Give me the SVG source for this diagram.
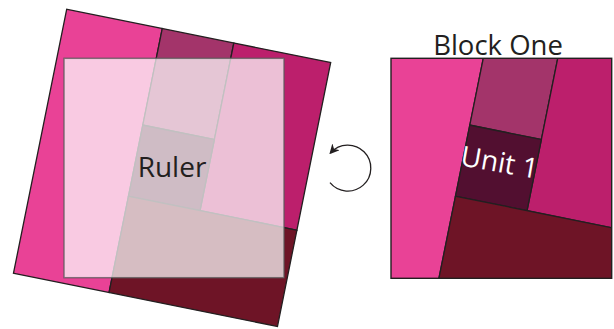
<svg xmlns="http://www.w3.org/2000/svg" xmlns:xlink="http://www.w3.org/1999/xlink" width="614" height="329" viewBox="0 0 614 329">
<style>
.pc{stroke:#231F20;stroke-width:1.3;stroke-linejoin:miter}
.lbl{font-family:"Open Sans","Noto Sans",sans-serif;fill:#231F20}
</style>
<defs>
<g id="cabin">
<rect class="pc" x="0" y="0" width="97.5" height="269.3" fill="#E94296"/>
<rect class="pc" x="97.5" y="0" width="73" height="98.5" fill="#A3346A"/>
<rect class="pc" x="170.5" y="0" width="98.8" height="171" fill="#BC1F6C"/>
<rect class="pc" x="97.5" y="98.5" width="73" height="72.5" fill="#520F30"/>
<rect class="pc" x="97.5" y="171" width="171.8" height="98.3" fill="#6E1426"/>
</g>
<clipPath id="blockClip"><rect x="391" y="58" width="220" height="220"/></clipPath>
<marker id="ah" viewBox="0 0 10 10" refX="8" refY="5" markerWidth="10" markerHeight="10" markerUnits="userSpaceOnUse" orient="auto">
<path d="M0,0 L10,5 L0,10 L3,5 z" fill="#231F20"/>
</marker>
</defs>
<g id="unit-rotated">
<use xlink:href="#cabin" transform="translate(66.7,9.3) rotate(11.4)"/>
</g>
<g id="ruler">
<rect x="64" y="58.3" width="220" height="219.4" fill="#FFFFFF" fill-opacity="0.72" stroke="#5a5a5a" stroke-opacity="0.75" stroke-width="1.5"/>
<text class="lbl" x="172" y="177" font-size="28" text-anchor="middle">Ruler</text>
</g>
<g id="connectors">
<path d="M330,182.7 A23,23 0 1 0 330.7,152.7" fill="none" stroke="#231F20" stroke-width="1.3" marker-end="url(#ah)"/>
</g>
<g id="block-one">
<g clip-path="url(#blockClip)">
<use xlink:href="#cabin" transform="translate(393.7,9.3) rotate(11.4)"/>
</g>
<rect x="391" y="58.3" width="220.7" height="220" fill="none" stroke="#231F20" stroke-width="1.4"/>
<text class="lbl" x="498" y="55" font-size="27.5" text-anchor="middle">Block One</text>
<text x="498" y="172" font-size="28" text-anchor="middle" fill="#FFFFFF" font-family="Open Sans, Noto Sans, sans-serif" transform="rotate(10 498 172)">Unit 1</text>
</g>
</svg>
